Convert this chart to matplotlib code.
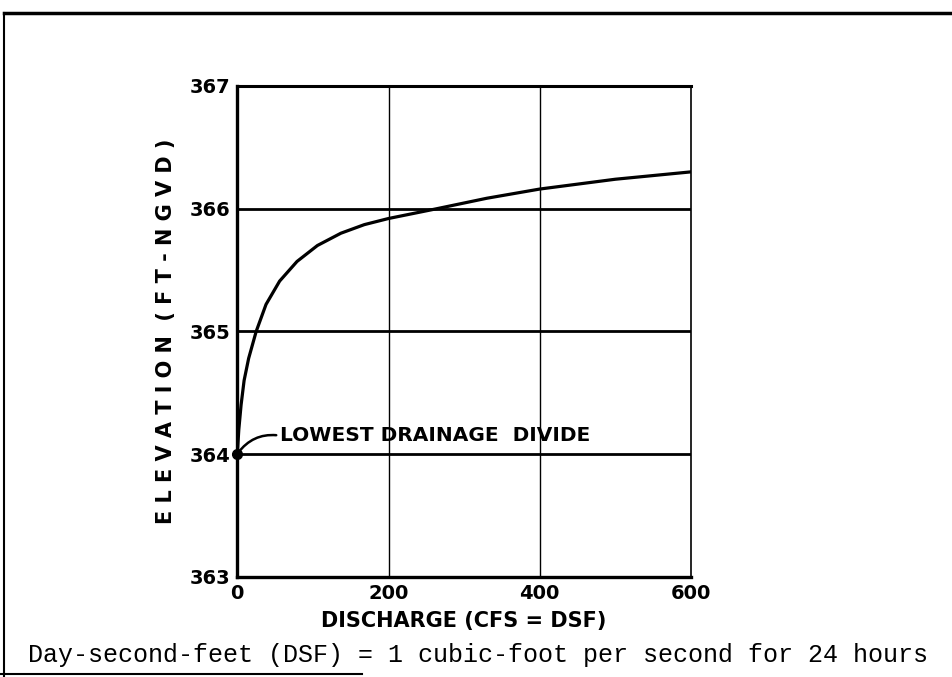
import matplotlib.pyplot as plt
from matplotlib.lines import Line2D

# rating curve
discharge = [0, 2, 5, 9, 15, 25, 38, 56, 79, 106, 137, 168, 200, 264, 330, 400, 450, 500, 600]
elevation = [364.0, 364.2, 364.4, 364.6, 364.78, 365.0, 365.22, 365.41, 365.57, 365.7,
             365.8, 365.87, 365.92, 366.0, 366.085, 366.16, 366.2, 366.24, 366.3]

x_ticks = [0, 200, 400, 600]
y_ticks = [363, 364, 365, 366, 367]
divide_q = 0
divide_elev = 364.0

fig = plt.figure(figsize=(9.53, 6.77), dpi=100)
ax = fig.add_axes([0.249, 0.148, 0.476, 0.725])

ax.set_xlim(0, 600)
ax.set_ylim(363, 367)
ax.set_xticks(x_ticks)
ax.set_yticks(y_ticks)
ax.tick_params(length=0, labelsize=14, pad=5)
for lbl in ax.get_xticklabels() + ax.get_yticklabels():
    lbl.set_fontweight("bold")

# grid: heavy horizontals, light verticals
for y in y_ticks[1:-1]:
    ax.axhline(y, color="black", lw=2.0, zorder=1)
for x in x_ticks[1:-1]:
    ax.axvline(x, color="black", lw=1.0, zorder=1)

for side, w in [("left", 2.4), ("bottom", 2.4), ("top", 2.2), ("right", 1.2)]:
    ax.spines[side].set_linewidth(w)

ax.plot(discharge, elevation, color="black", lw=2.3, zorder=3,
        solid_joinstyle="round")
ax.plot([divide_q], [divide_elev], "o", color="black", ms=7, zorder=4, clip_on=False)

ax.annotate("LOWEST DRAINAGE  DIVIDE", xy=(divide_q + 1, divide_elev + 0.01),
            xytext=(57, 364.15), fontsize=14.5, fontweight="bold",
            va="center", ha="left",
            arrowprops=dict(arrowstyle="-", color="black", lw=1.8, relpos=(0, 0.5),
                            connectionstyle="arc3,rad=0.3", shrinkA=1, shrinkB=0))

ax.set_ylabel("E L E V A T I O N  ( F T - N G V D )", fontsize=15, fontweight="bold", labelpad=10)
ax.set_xlabel("DISCHARGE (CFS = DSF)", fontsize=15, fontweight="bold", labelpad=6)

fig.text(0.502, 0.033, "Day-second-feet (DSF) = 1 cubic-foot per second for 24 hours",
         family="Liberation Mono", fontsize=18, ha="center", va="center")

# scanned page border
fig.add_artist(Line2D([0.004, 1.0], [0.981, 0.981], transform=fig.transFigure, color="black", lw=2.5))
fig.add_artist(Line2D([0.004, 0.004], [0.0, 0.981], transform=fig.transFigure, color="black", lw=1.5))
fig.add_artist(Line2D([0.0, 0.38], [0.004, 0.004], transform=fig.transFigure, color="black", lw=1.5))

fig.savefig("out.png", dpi=100)
